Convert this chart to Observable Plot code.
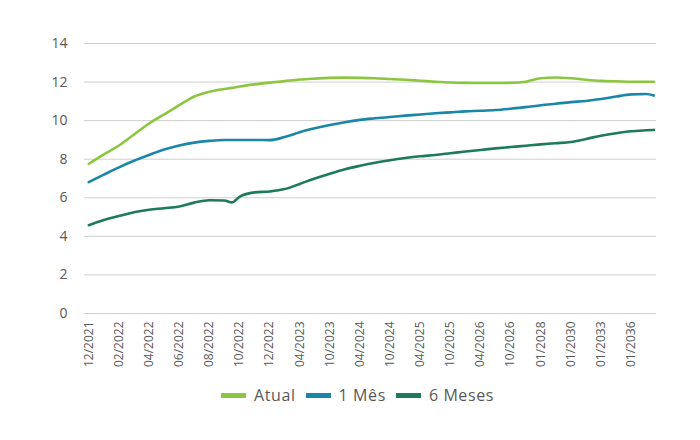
<!DOCTYPE html>
<html>
<head>
<meta charset="utf-8">
<script src="https://cdn.jsdelivr.net/npm/d3@7"></script>
<script src="https://cdn.jsdelivr.net/npm/@observablehq/plot@0.6"></script>
<style>
  body { margin: 0; background: #ffffff; font-family: "Open Sans", sans-serif; }
  #chart { width: 700px; }
  #legend { width: 700px; box-sizing: border-box; padding-left: 15px; height: 26px;
            display: flex; justify-content: center; align-items: center;
            font-size: 16px; letter-spacing: 0.6px; color: #595959; }
  .item { display: flex; align-items: center; margin: 0 5px; }
  .sw { width: 25px; height: 5px; margin-right: 8px; }
</style>
</head>
<body>
<div id="chart"></div>
<div id="legend"></div>
<script>
// Category tick labels (every 4th vertex of the curve is labelled)
const tickLabels = ["12/2021","02/2022","04/2022","06/2022","08/2022","10/2022","12/2022",
  "04/2023","10/2023","04/2024","10/2024","04/2025","10/2025","04/2026","10/2026",
  "01/2028","01/2030","01/2033","01/2036"];

// Category index of each sampled vertex
const idx = [0,2,4,6,8,10,12,14,16,18,19,20,22,24,26,28,30,32,34,36,38,40,42,44,46,48,50,52,54,56,58,60,62,64,66,68,70,72,74,75];

const atual = [7.76,8.25,8.71,9.28,9.85,10.32,10.8,11.25,11.5,11.64,11.7,
  11.77,11.88,11.97,12.05,12.13,12.18,12.22,12.23,12.22,12.2,12.16,12.12,12.07,12.02,
  11.98,11.96,11.95,11.95,11.96,12.02,12.2,12.24,12.2,12.12,12.06,12.04,12.02,12.02,12.02];

const umMes = [6.81,7.2,7.58,7.92,8.22,8.5,8.71,8.86,8.95,9.0,9.0,
  9.0,9.0,8.99,9.15,9.4,9.6,9.77,9.92,10.04,10.12,10.19,10.26,10.32,10.38,
  10.43,10.48,10.51,10.55,10.62,10.7,10.8,10.88,10.96,11.02,11.12,11.25,11.36,11.38,11.3];

const seisMeses = [4.58,4.85,5.05,5.25,5.38,5.46,5.55,5.75,5.87,5.86,5.76,
  6.05,6.28,6.33,6.45,6.72,7.0,7.25,7.48,7.66,7.82,7.95,8.06,8.15,8.22,
  8.31,8.4,8.48,8.56,8.63,8.7,8.77,8.83,8.89,9.05,9.22,9.35,9.45,9.5,9.52];

const seriesNames = ["Atual", "1 Mês", "6 Meses"];
const seriesColors = ["#8cc63f", "#1a86a8", "#1d7a5a"];
const yTicks = [0, 2, 4, 6, 8, 10, 12, 14];

const seriesValues = [atual, umMes, seisMeses];
const rows = [];
seriesNames.forEach((name, s) => {
  idx.forEach((i, j) => rows.push({ i, v: seriesValues[s][j], s: name }));
});
const tickPositions = tickLabels.map((_, k) => k * 4);

const chart = Plot.plot({
  width: 700,
  height: 382,
  marginLeft: 84,
  marginRight: 44,
  marginTop: 43,
  marginBottom: 69,
  style: { fontFamily: "'Open Sans', sans-serif", color: "#595959", background: "#ffffff" },
  x: { type: "linear", domain: [-0.57, 75.36] },
  y: { domain: [0, 14] },
  color: { domain: seriesNames, range: seriesColors },
  marks: [
    Plot.gridY(yTicks, { stroke: "#cfcfcf", strokeOpacity: 1, strokeWidth: 1 }),
    Plot.axisY(yTicks, { tickSize: 0, tickPadding: 17, fontSize: 14, label: null, fill: "#595959" }),
    Plot.axisX(tickPositions, {
      tickSize: 0, tickPadding: 8, tickRotate: -90, fontSize: 12, label: null, fill: "#595959",
      tickFormat: (d) => tickLabels[Math.round(d / 4)]
    }),
    Plot.line(rows, { x: "i", y: "v", stroke: "s", z: "s", strokeWidth: 2.6, curve: "monotone-x" })
  ]
});
document.getElementById("chart").appendChild(chart);

const legend = document.getElementById("legend");
seriesNames.forEach((name, k) => {
  const it = document.createElement("div");
  it.className = "item";
  const sw = document.createElement("span");
  sw.className = "sw";
  sw.style.background = seriesColors[k];
  const tx = document.createElement("span");
  tx.textContent = name;
  it.appendChild(sw);
  it.appendChild(tx);
  legend.appendChild(it);
});
</script>
</body>
</html>
